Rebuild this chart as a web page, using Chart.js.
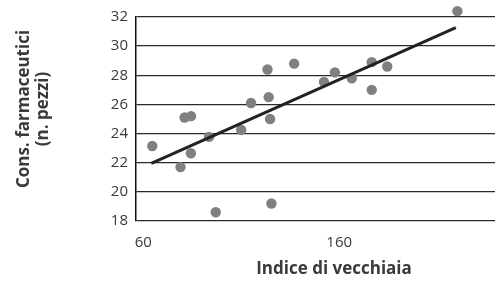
<!DOCTYPE html>
<html>
<head>
<meta charset="utf-8">
<script src="https://cdn.jsdelivr.net/npm/chart.js@4/dist/chart.umd.min.js"></script>
<style>
  body { margin: 0; background: #fff; overflow: hidden; }
</style>
</head>
<body>
<canvas id="vecchiaiaChart" width="504" height="283"></canvas>
<script>
// indice di vecchiaia vs consumo farmaceutico
const indiceVecchiaia = [64.6, 79.0, 81.1, 84.4, 84.3, 93.6, 97.0, 110.0, 115.0, 123.4, 124.0,
    124.7, 125.4, 137.0, 152.2, 157.8, 166.4, 176.6, 176.6, 184.5, 220.3];
const consFarmaceutici = [23.15, 21.7, 25.1, 25.2, 22.65, 23.77, 18.6, 24.25, 26.1, 28.4, 26.5,
    25.0, 19.2, 28.8, 27.55, 28.2, 27.8, 28.9, 27.0, 28.6, 32.4];
const trendX = [64.1, 219.5];
const trendY = [21.96, 31.27];
const xTicks = [60, 160];
const yTicks = [18, 20, 22, 24, 26, 28, 30, 32];

const punti = indiceVecchiaia.map((v, i) => ({ x: v, y: consFarmaceutici[i] }));
const retta = trendX.map((v, i) => ({ x: v, y: trendY[i] }));

const FONT = "'Open Sans', sans-serif";

// titoli degli assi disegnati a mano (il grafico originale e' ritagliato)
const titoliAssi = {
    id: "titoliAssi",
    afterDraw(chart) {
        const ctx = chart.ctx;
        ctx.save();
        ctx.fillStyle = "#3a3a3a";
        ctx.font = "bold 17px " + FONT;
        ctx.textAlign = "center";
        ctx.textBaseline = "middle";
        ctx.fillText("Indice di vecchiaia", 334, 269);
        ctx.translate(0, 109);
        ctx.rotate(-Math.PI / 2);
        ctx.fillText("Cons. farmaceutici", 0, 24);
        ctx.fillText("(n. pezzi)", 0, 43);
        ctx.restore();
    },
};

const config = {
    type: "scatter",
    data: {
        datasets: [
            {
                type: "line",
                data: retta,
                borderColor: "#222",
                borderWidth: 3,
                pointRadius: 0,
                pointHoverRadius: 0,
                fill: false,
                order: 0,
            },
            {
                data: punti,
                backgroundColor: "#808080",
                borderWidth: 0,
                pointRadius: 5.2,
                // margine piu' largo cosi' il punto sopra il 32 viene disegnato
                pointHoverRadius: 9,
                clip: false,
                order: 1,
            },
        ],
    },
    options: {
        responsive: false,
        animation: false,
        events: [],
        layout: { padding: { top: 17, right: 0, left: 0, bottom: 0 } },
        plugins: { legend: { display: false }, tooltip: { enabled: false } },
        scales: {
            x: {
                type: "linear",
                min: 56.3,
                max: 239.5,
                afterBuildTicks: (scale) => {
                    scale.ticks = xTicks.map((v) => ({ value: v }));
                },
                afterFit: (scale) => {
                    scale.height = 62;
                },
                grid: { display: false, drawTicks: false },
                border: { display: false },
                ticks: {
                    color: "#3a3a3a",
                    font: { family: FONT, size: 15 },
                    padding: 13,
                    maxRotation: 0,
                },
            },
            y: {
                min: 18,
                max: 32,
                afterBuildTicks: (scale) => {
                    scale.ticks = yTicks.map((v) => ({ value: v }));
                },
                afterFit: (scale) => {
                    scale.width = 136;
                },
                grid: { color: "#2a2a2a", lineWidth: 1.3, drawTicks: false },
                border: { display: true, color: "#111", width: 1.5 },
                ticks: {
                    color: "#3a3a3a",
                    font: { family: FONT, size: 15 },
                    padding: 8,
                },
            },
        },
    },
    plugins: [titoliAssi],
};

const vecchiaiaChart = new Chart(document.getElementById("vecchiaiaChart"), config);
</script>
</body>
</html>
